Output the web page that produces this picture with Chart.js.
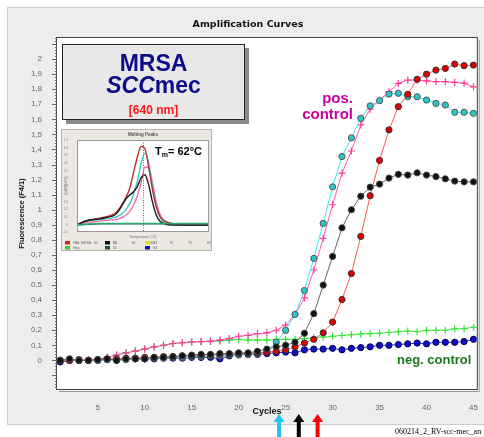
<!DOCTYPE html>
<html><head><meta charset="utf-8">
<script src="https://cdn.jsdelivr.net/npm/chart.js@4/dist/chart.umd.min.js"></script>
<style>
html,body{margin:0;padding:0;background:#fff;width:484px;height:437px;overflow:hidden;position:relative;font-family:Arial,"Liberation Sans",sans-serif;}
#main{position:absolute;left:0;top:0;}
#title{position:absolute;left:148px;width:200px;top:18px;line-height:12px;text-align:center;font-weight:bold;font-size:9.5px;font-family:"DejaVu Sans",sans-serif;color:#111;}
#box{position:absolute;left:62px;top:44px;width:181px;height:74px;background:#e8e8e8;border:1px solid #222;box-shadow:4px 4px 0 #8a8a8a;}
#box div{position:absolute;left:0;width:100%;text-align:center;font-weight:bold;white-space:nowrap;}
#l1{top:7px;font-size:23px;line-height:23px;color:#0c0c8a;}
#l2{top:29px;font-size:23px;line-height:23px;color:#0c0c8a;}
#l3{top:59px;font-size:12px;line-height:12px;color:#ff1a1a;}
#insetWrap{position:absolute;left:61px;top:129px;width:151px;height:122px;}
#inset{position:absolute;left:0;top:0;}
#tm{position:absolute;left:155px;top:146px;font:bold 11px Arial,"Liberation Sans",sans-serif;line-height:11px;color:#000;white-space:nowrap;}
#tm sub{font-size:7px;vertical-align:-2px;}
#pos{position:absolute;right:131px;top:89.5px;text-align:right;font:bold 15px Arial,"Liberation Sans",sans-serif;line-height:16px;color:#cc0099;}
#neg{position:absolute;left:397px;top:352.5px;font:bold 13px Arial,"Liberation Sans",sans-serif;line-height:13px;color:#1a7a1a;white-space:nowrap;}
#footer{position:absolute;left:395px;top:427px;font:8px "Liberation Serif","Times New Roman",serif;line-height:10px;color:#000;white-space:nowrap;}
</style></head><body>
<canvas id="main" width="484" height="437"></canvas>
<div id="title">Amplification Curves</div>
<div id="box"><div id="l1">MRSA</div><div id="l2"><i>SCC</i>mec</div><div id="l3">[640 nm]</div></div>
<div id="insetWrap"><canvas id="inset" width="151" height="122"></canvas></div>
<div id="tm">T<sub>m</sub>= 62°C</div>
<div id="pos">pos.<br>control</div>
<div id="neg">neg. control</div>
<div id="footer">060214_2_RV-scc-mec_an</div>
<script>
// ---------- main amplification data ----------
const cycles = Array.from({length:45}, (_, i) => i + 1);
const xTickValues = [5,10,15,20,25,30,35,40,45];
const redVals = [0.0,0.0,0.005,0.0,0.005,0.01,0.01,0.015,0.015,0.02,
  0.02,0.025,0.025,0.03,0.03,0.035,0.035,0.04,0.04,0.045,
  0.045,0.05,0.055,0.06,0.07,0.09,0.115,0.14,0.183,0.254,
  0.404,0.576,0.823,1.093,1.327,1.53,1.684,1.766,1.866,1.9,
  1.927,1.938,1.967,1.956,1.96];
const blackVals = [0.0,0.01,0.0,0.0,0.005,0.01,0.0,0.01,0.01,0.01,
  0.02,0.02,0.025,0.03,0.035,0.04,0.04,0.045,0.045,0.05,
  0.05,0.06,0.075,0.09,0.10,0.12,0.18,0.31,0.50,0.69,
  0.88,1.0,1.09,1.15,1.17,1.21,1.235,1.23,1.245,1.23,
  1.22,1.205,1.19,1.185,1.185];
const cyanVals = [0.0,0.005,0.0,0.0,0.0,0.005,0.0,0.005,0.01,0.01,
  0.015,0.015,0.02,0.02,0.025,0.025,0.03,0.03,0.035,0.035,
  0.04,0.045,0.06,0.121,0.199,0.305,0.464,0.677,0.909,1.152,
  1.353,1.477,1.607,1.69,1.724,1.768,1.773,1.75,1.75,1.728,
  1.706,1.695,1.647,1.647,1.64];
const magentaVals = [0.0,0.0,0.0,0.0,0.005,0.02,0.035,0.05,0.062,0.075,
  0.09,0.10,0.112,0.118,0.122,0.125,0.128,0.135,0.145,0.16,
  0.166,0.177,0.183,0.20,0.234,0.305,0.415,0.60,0.81,1.033,
  1.243,1.39,1.563,1.667,1.728,1.784,1.839,1.861,1.86,1.855,
  1.85,1.85,1.845,1.84,1.815];
const greenVals = [-0.01,0.0,0.0,0.0,0.005,0.02,0.035,0.05,0.062,0.075,
  0.09,0.10,0.112,0.118,0.122,0.125,0.125,0.13,0.135,0.14,
  0.135,0.135,0.135,0.14,0.14,0.14,0.145,0.15,0.155,0.16,
  0.165,0.17,0.175,0.178,0.18,0.185,0.19,0.195,0.19,0.2,
  0.2,0.2,0.21,0.21,0.22];
const blueVals = [-0.01,0.0,0.0,0.0,0.0,0.005,0.005,0.01,0.01,0.01,
  0.01,0.015,0.015,0.015,0.02,0.02,0.02,0.01,0.03,0.04,
  0.04,0.04,0.045,0.05,0.055,0.05,0.07,0.075,0.075,0.08,
  0.07,0.08,0.085,0.09,0.1,0.1,0.105,0.11,0.115,0.11,
  0.12,0.12,0.12,0.125,0.14];
const ctValues = [24.3, 26.4, 28.4];
const ctColors = ['#22c4f4', '#000000', '#ff0000'];

// ---------- inset melting-peak data ----------
const meltTemps = [45,47,49,51,53,55,56,57,58,59,60,61,62,63,64,65,66,67,68,70,72,75,80];
const meltRed   = [0,0.04,0.07,0.09,0.11,0.15,0.2,0.27,0.36,0.48,0.68,0.88,1.02,0.99,0.75,0.46,0.24,0.11,0.06,0.02,0.01,0,0];
const meltCyan  = [0,0.04,0.06,0.07,0.08,0.10,0.12,0.15,0.2,0.28,0.4,0.57,0.8,0.93,0.8,0.5,0.25,0.1,0.04,0.01,0,0,0];
const meltPink  = [0,0.03,0.04,0.05,0.06,0.07,0.08,0.1,0.13,0.18,0.26,0.38,0.55,0.75,0.74,0.55,0.3,0.14,0.06,0.02,0.01,0,0];
const meltBlack = [0,0.05,0.07,0.08,0.1,0.13,0.18,0.26,0.34,0.39,0.43,0.5,0.61,0.65,0.52,0.3,0.13,0.05,0.02,0,0,0,0];
const meltGreen = [0,0.01,0.015,0.02,0.02,0.02,0.02,0.02,0.02,0.02,0.02,0.02,0.02,0.02,0.02,0.02,0.02,0.02,0.02,0.02,0.02,0.02,0.02];
const meltBlue  = [0,0.005,0.01,0.015,0.015,0.015,0.015,0.015,0.015,0.015,0.015,0.015,0.015,0.015,0.015,0.015,0.015,0.015,0.015,0.015,0.015,0.015,0.015];
const meltTm = 62.5;
const meltLegend = [
  {label:'Pos. MRSA', color:'#d02020'}, {label:'S1', color:'#111111'}, {label:'S3', color:'#e8e020'},
  {label:'Neg.', color:'#30d030'}, {label:'S2', color:'#1f5030'}, {label:'S4', color:'#1010c0'}
];

const pts = (xs, ys) => xs.map((x, i) => ({x, y: ys[i]}));

const mainPlugin = {
  id: 'mainDeco',
  beforeDraw(chart) {
    const ctx = chart.ctx, a = chart.chartArea;
    ctx.save();
    ctx.fillStyle = '#ededed';
    ctx.fillRect(7, 7, 484, 418);
    ctx.strokeStyle = '#d8c8c8';
    ctx.lineWidth = 1;
    ctx.strokeRect(7.5, 7.5, 484, 417);
    ctx.fillStyle = '#ffffff';
    ctx.fillRect(a.left, a.top, a.right - a.left, a.bottom - a.top);
    ctx.restore();
  },
  afterDraw(chart) {
    const ctx = chart.ctx, a = chart.chartArea;
    const ys = chart.scales.y, xs = chart.scales.x;
    ctx.save();
    ctx.strokeStyle = '#9a9a9a';
    ctx.lineWidth = 1;
    ctx.beginPath();
    ctx.moveTo(a.right + 2.5, a.top + 2); ctx.lineTo(a.right + 2.5, a.bottom + 2.5); ctx.lineTo(a.left + 2, a.bottom + 2.5);
    ctx.stroke();
    ctx.strokeStyle = '#444';
    ctx.strokeRect(Math.round(a.left) - 0.5, Math.round(a.top) - 0.5, a.right - a.left + 1, a.bottom - a.top + 1);
    ctx.strokeStyle = '#666';
    for (let k = -9; k <= 107; k++) {
      const v = k * 0.02;
      const py = Math.round(ys.getPixelForValue(v)) + 0.5;
      if (py < a.top || py > a.bottom) continue;
      const len = (k % 5 === 0) ? 5 : 2;
      ctx.beginPath(); ctx.moveTo(a.left - len, py); ctx.lineTo(a.left, py); ctx.stroke();
    }
    ctValues.forEach((c, i) => {
      const px = xs.getPixelForValue(c);
      ctx.fillStyle = ctColors[i];
      ctx.beginPath();
      ctx.moveTo(px, 414); ctx.lineTo(px + 5.5, 422); ctx.lineTo(px + 2, 422); ctx.lineTo(px + 2, 437);
      ctx.lineTo(px - 2, 437); ctx.lineTo(px - 2, 422); ctx.lineTo(px - 5.5, 422); ctx.closePath();
      ctx.fill();
    });
    ctx.restore();
  }
};

const circleDs = (label, vals, fill, line, border) => ({
  label, data: pts(cycles, vals), borderColor: line, borderWidth: 1,
  pointStyle: 'circle', pointRadius: 3.1, pointBackgroundColor: fill,
  pointBorderColor: border, pointBorderWidth: 1, tension: 0
});
const crossDs = (label, vals, col, line) => ({
  label, data: pts(cycles, vals), borderColor: line, borderWidth: 1,
  pointStyle: 'cross', pointRadius: 3.6, pointBorderColor: col, pointBackgroundColor: col,
  pointBorderWidth: 1.2, tension: 0
});

new Chart(document.getElementById('main'), {
  type: 'line',
  data: {
    datasets: [
      circleDs('black', blackVals, '#111111', '#666666', '#444'),
      circleDs('red', redVals, '#e00000', '#ff5a5a', '#333'),
      circleDs('cyan', cyanVals, '#2cc8c8', '#3ee8f4', '#555'),
      crossDs('pos. control', magentaVals, '#ff3a9a', '#ff5aa8'),
      circleDs('blue', blueVals, '#1010c0', '#2a3ad0', '#000060'),
      crossDs('neg. control', greenVals, '#33e633', '#55ee55')
    ]
  },
  options: {
    responsive: false, animation: false, devicePixelRatio: 1,
    layout: {padding: {left: 8, top: 38, right: 5, bottom: 0}},
    plugins: {legend: {display: false}, tooltip: {enabled: false}, title: {display: false}},
    scales: {
      x: {
        type: 'linear', min: 0.66, max: 45.35,
        afterBuildTicks: s => { s.ticks = xTickValues.map(v => ({value: v})); },
        afterFit: s => { s.height = 48; },
        ticks: {font: {size: 8, family: 'Arial'}, color: '#666', padding: 6, maxRotation: 0, autoSkip: false},
        grid: {display: false}, border: {display: false},
        title: {display: true, text: 'Cycles', color: '#111', font: {size: 9, weight: 'bold', family: 'Arial'}, padding: {top: 0, bottom: 19.6}}
      },
      y: {
        type: 'linear', min: -0.19, max: 2.14,
        afterFit: s => { s.width = 49; },
        ticks: {
          stepSize: 0.1, includeBounds: false, font: {size: 8, family: 'Arial'}, color: '#666', padding: 7,
          callback: v => (v < -1e-6 || v > 2 + 1e-6) ? '' : String(Math.round(v * 10) / 10).replace('.', ',')
        },
        grid: {display: false}, border: {display: false},
        title: {display: true, text: 'Fluorescence (F4/1)', color: '#111', font: {size: 7.5, weight: 'bold', family: 'Arial'}, padding: {top: 9, bottom: 0}}
      }
    }
  },
  plugins: [mainPlugin]
});

// ---------- inset ----------
const insetPlugin = {
  id: 'insetDeco',
  beforeDraw(chart) {
    const ctx = chart.ctx, a = chart.chartArea;
    ctx.save();
    ctx.fillStyle = '#ece9e2';
    ctx.fillRect(0, 0, chart.width, chart.height);
    ctx.strokeStyle = '#b5b0a8';
    ctx.strokeRect(0.5, 0.5, chart.width - 1, chart.height - 1);
    ctx.fillStyle = '#ffffff';
    ctx.fillRect(a.left, a.top, a.right - a.left, a.bottom - a.top);
    ctx.restore();
  },
  afterDatasetsDraw(chart) {
    const ctx = chart.ctx, a = chart.chartArea, xs = chart.scales.x;
    ctx.save();
    ctx.strokeStyle = '#d04040';
    ctx.setLineDash([1, 1.5]);
    const px = Math.round(xs.getPixelForValue(meltTm)) + 0.5;
    ctx.beginPath(); ctx.moveTo(px, a.top); ctx.lineTo(px, a.bottom); ctx.stroke();
    ctx.setLineDash([]);
    ctx.strokeStyle = '#999';
    ctx.strokeRect(a.left + 0.5, a.top + 0.5, a.right - a.left - 1, a.bottom - a.top - 1);
    ctx.fillStyle = '#555';
    ctx.font = 'bold 4.5px Arial';
    ctx.textAlign = 'center'; ctx.textBaseline = 'middle';
    ctx.fillText('Melting Peaks', (a.left + a.right) / 2, 5.5);
    ctx.textAlign = 'left';
    ctx.font = '3.5px Arial';
    meltLegend.forEach((it, i) => {
      const col = i % 3, row = Math.floor(i / 3);
      const x = 4 + col * 40, y = 113.5 + row * 5;
      ctx.fillStyle = it.color;
      ctx.fillRect(x, y - 1.5, 5, 3.5);
      ctx.fillStyle = '#666';
      ctx.fillText(it.label, x + 8, y + 0.3);
    });
    ctx.restore();
  }
};
const meltDs = (label, vals, col) => ({
  label, data: pts(meltTemps, vals), borderColor: col, borderWidth: 1.4,
  pointRadius: 0, cubicInterpolationMode: 'monotone'
});
new Chart(document.getElementById('inset'), {
  type: 'line',
  data: {
    datasets: [
      meltDs('Neg.', meltGreen, '#2aa870'),
      meltDs('S4', meltBlue, '#3a6a80'),
      meltDs('S1', meltBlack, '#1a1a1a'),
      meltDs('Pos. MRSA', meltRed, '#b83030'),
      meltDs('S2', meltCyan, '#3ac8c0'),
      meltDs('S3', meltPink, '#f070b0')
    ]
  },
  options: {
    responsive: false, animation: false, devicePixelRatio: 1,
    layout: {padding: {left: 2, top: 11, right: 2, bottom: 0}},
    plugins: {legend: {display: false}, tooltip: {enabled: false}},
    scales: {
      x: {
        type: 'linear', min: 45, max: 80,
        afterFit: s => { s.height = 19; },
        ticks: {stepSize: 5, font: {size: 3.5}, color: '#666', padding: 1, maxRotation: 0},
        grid: {display: false}, border: {display: false},
        title: {display: true, text: 'Temperature (°C)', color: '#666', font: {size: 3.5}, padding: {top: 0, bottom: 12}}
      },
      y: {
        type: 'linear', min: -0.09, max: 1.1,
        afterFit: s => { s.width = 14; },
        ticks: {stepSize: 0.1, font: {size: 3}, color: '#777', padding: 1},
        grid: {display: false}, border: {display: false},
        title: {display: true, text: '-d(F4)/dT', color: '#666', font: {size: 3.5}, padding: {top: 1, bottom: 0}}
      }
    }
  },
  plugins: [insetPlugin]
});
</script>
</body></html>
